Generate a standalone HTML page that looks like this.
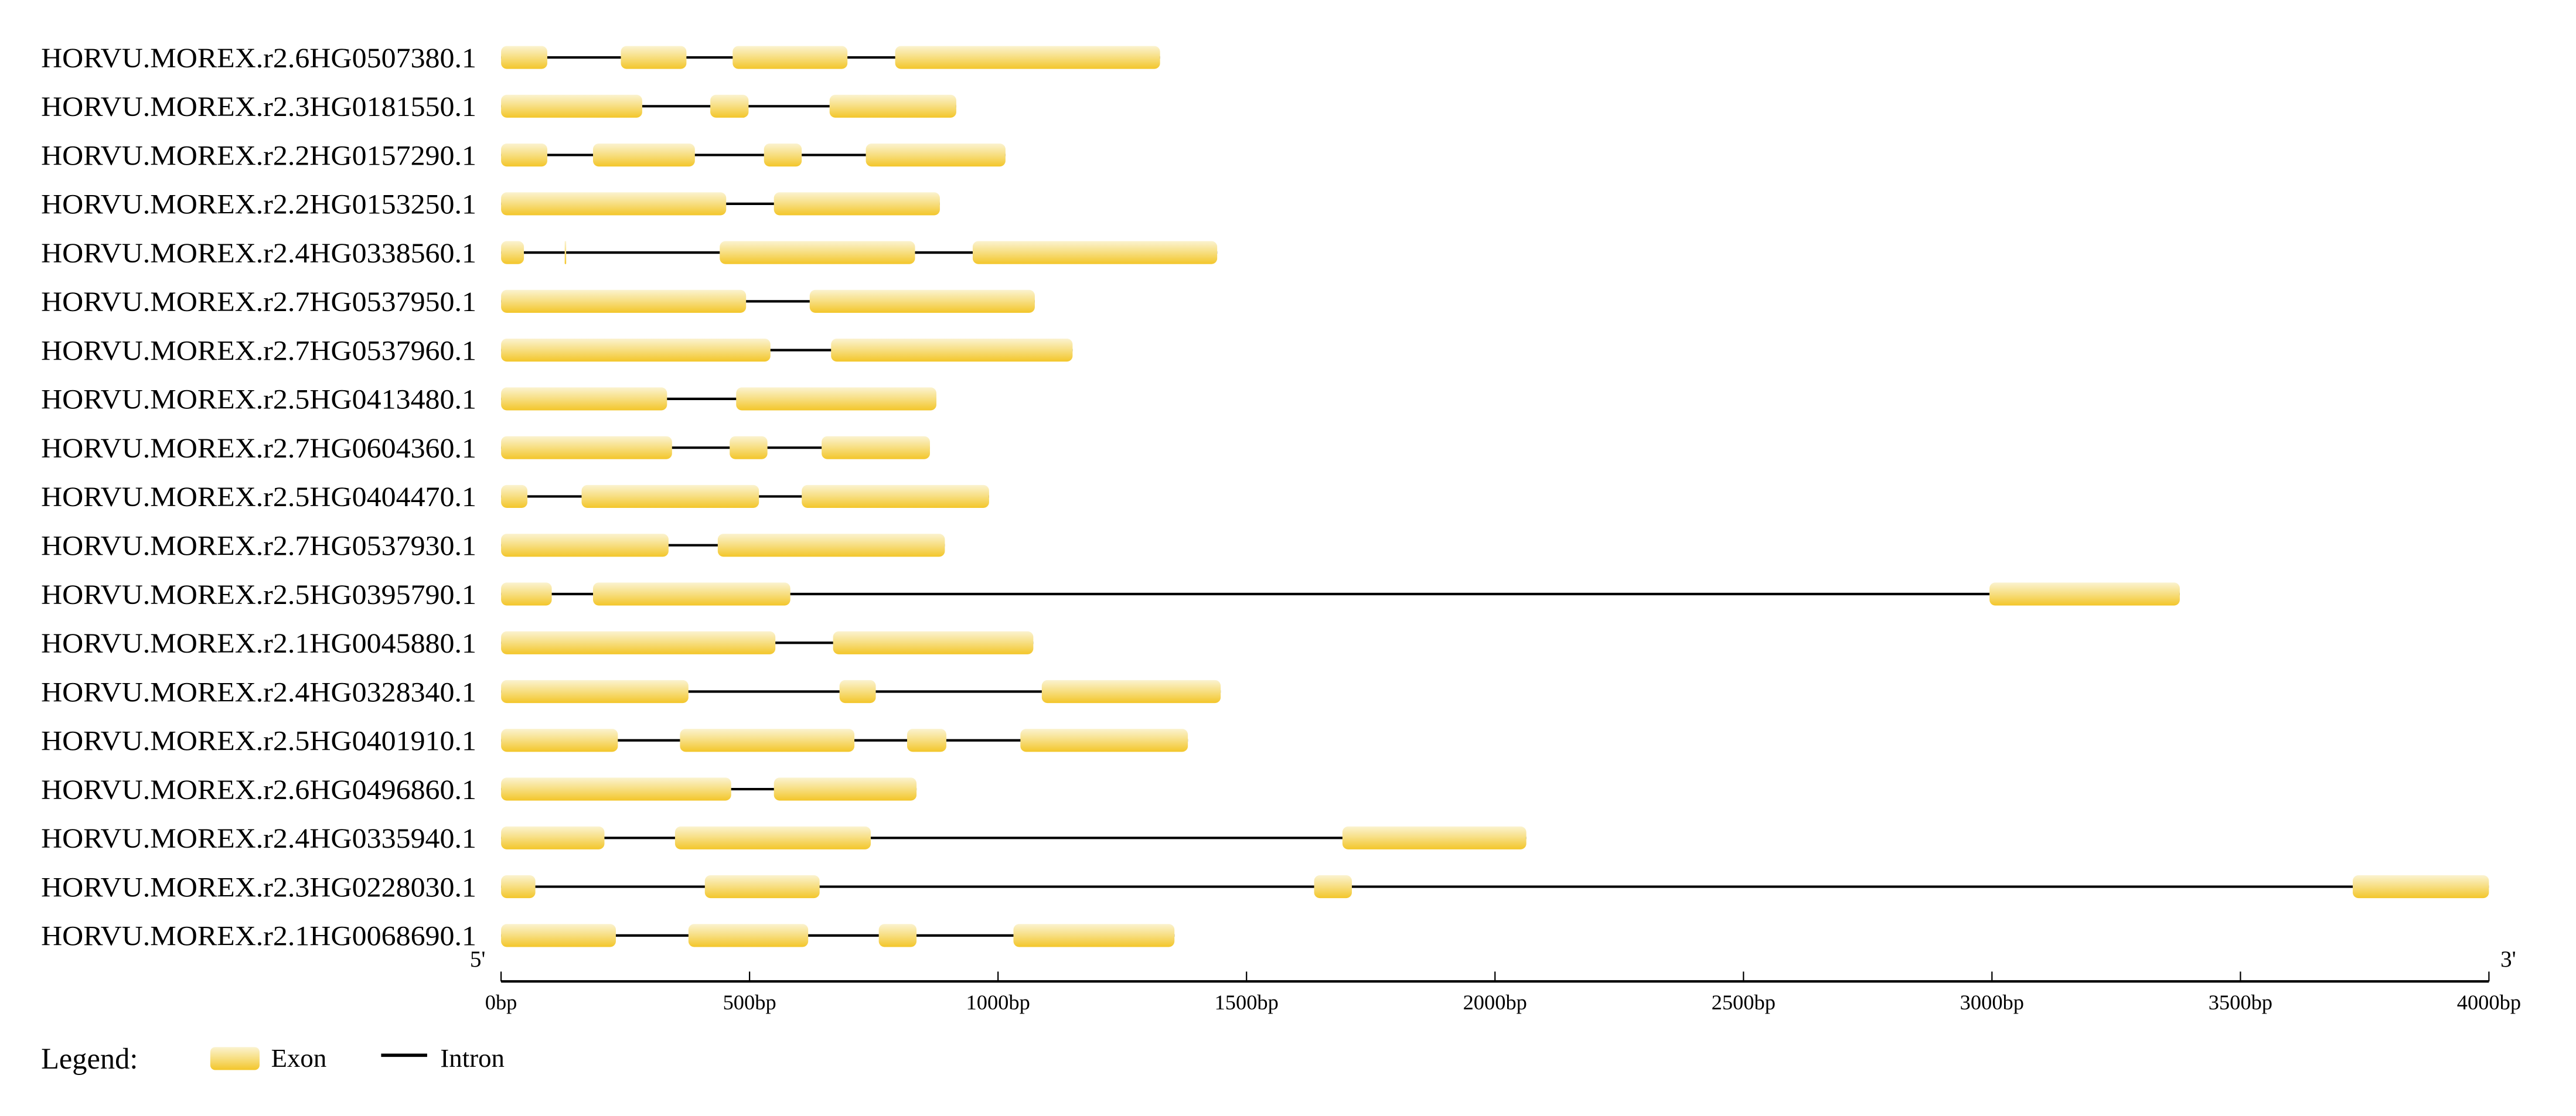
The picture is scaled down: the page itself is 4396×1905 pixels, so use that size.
<!DOCTYPE html>
<html><head><meta charset="utf-8"><style>
html,body{margin:0;padding:0;background:#fff;}
svg{display:block;}
text{font-family:"Liberation Serif",serif;fill:#000;}
</style></head><body>
<svg id="chart" width="4396" height="1905" viewBox="0 0 1568 680" preserveAspectRatio="none" xmlns="http://www.w3.org/2000/svg">
<defs>
<linearGradient id="exg" x1="0" y1="0" x2="0" y2="1">
<stop offset="0" stop-color="#fbf3d0"/><stop offset="0.5" stop-color="#f7de80"/><stop offset="1" stop-color="#f3c62a"/>
</linearGradient>
</defs>
<g id="rows"></g>
<g id="axis"></g>
<g id="legend">
<text x="25" y="651" font-size="18">Legend:</text>
<rect x="128" y="638" width="30" height="14" rx="3" fill="url(#exg)"/>
<text x="165" y="650" font-size="16">Exon</text>
<line x1="232" y1="643" x2="260" y2="643" stroke="#000" stroke-width="2"/>
<text x="268" y="650" font-size="16">Intron</text>
</g>
</svg>
<script>
const genes = ["HORVU.MOREX.r2.6HG0507380.1","HORVU.MOREX.r2.3HG0181550.1","HORVU.MOREX.r2.2HG0157290.1","HORVU.MOREX.r2.2HG0153250.1","HORVU.MOREX.r2.4HG0338560.1","HORVU.MOREX.r2.7HG0537950.1","HORVU.MOREX.r2.7HG0537960.1","HORVU.MOREX.r2.5HG0413480.1","HORVU.MOREX.r2.7HG0604360.1","HORVU.MOREX.r2.5HG0404470.1","HORVU.MOREX.r2.7HG0537930.1","HORVU.MOREX.r2.5HG0395790.1","HORVU.MOREX.r2.1HG0045880.1","HORVU.MOREX.r2.4HG0328340.1","HORVU.MOREX.r2.5HG0401910.1","HORVU.MOREX.r2.6HG0496860.1","HORVU.MOREX.r2.4HG0335940.1","HORVU.MOREX.r2.3HG0228030.1","HORVU.MOREX.r2.1HG0068690.1"];
const exons = [
[[0,93],[241,373],[466,697],[793,1326]],
[[0,284],[421,498],[661,916]],
[[0,93],[185,390],[529,605],[734,1015]],
[[0,453],[549,883]],
[[0,46],[128,131],[440,833],[949,1441]],
[[0,493],[621,1074]],
[[0,542],[664,1150]],
[[0,334],[473,876]],
[[0,344],[460,536],[645,863]],
[[0,53],[162,519],[605,982]],
[[0,337],[436,893]],
[[0,102],[185,582],[2995,3378]],
[[0,552],[668,1071]],
[[0,377],[681,754],[1088,1448]],
[[0,235],[360,711],[817,896],[1045,1382]],
[[0,463],[549,836]],
[[0,208],[350,744],[1693,2063]],
[[0,69],[410,641],[1636,1712],[3726,4000]],
[[0,231],[377,618],[760,836],[1031,1355]]
];
const tickValues = [0,500,1000,1500,2000,2500,3000,3500,4000];
const tickLabels = ["0bp","500bp","1000bp","1500bp","2000bp","2500bp","3000bp","3500bp","4000bp"];
const NS="http://www.w3.org/2000/svg";
const x0=305, x1=1515, maxBp=4000;
function xs(bp){return x0+bp/maxBp*(x1-x0);}
function ys(i){return 35+i*(570-35)/(genes.length-1);}
function mk(tag,attrs,parent){const e=document.createElementNS(NS,tag);for(const k in attrs)e.setAttribute(k,attrs[k]);parent.appendChild(e);return e;}
const rows=document.getElementById('rows');
genes.forEach((g,i)=>{
  const y=ys(i);
  const grp=mk('g',{},rows);
  
  
  const t=mk('text',{x:25,y:y+6,'font-size':17,textLength:265,lengthAdjust:'spacingAndGlyphs'},grp);
  t.textContent=g;
  
  
  const ex=exons[i];
  const ln=mk('line',{x1:xs(ex[0][0]),x2:xs(ex[ex.length-1][1]),y1:y,y2:y,stroke:'#000','stroke-width':1.5},grp);
  
  
  ex.forEach(e=>{
    const w=Math.max(xs(e[1])-xs(e[0]),0.8);
    const r=mk('rect',{x:xs(e[0]),y:y-7,width:w,height:14,rx:Math.min(3.5,w/2),fill:'url(#exg)'},grp);
    
    
  });
});
const ax=document.getElementById('axis');
const al=mk('line',{x1:x0,x2:x1,y1:598,y2:598,stroke:'#000','stroke-width':1.5},ax);


tickValues.forEach((v,i)=>{
  const x=xs(v);
  const tk=mk('line',{x1:x,x2:x,y1:592,y2:598,stroke:'#000','stroke-width':0.8},ax);
  
  
  const tl=mk('text',{x:x,y:615,'font-size':13,'text-anchor':'middle'},ax);
  tl.textContent=tickLabels[i];
  
  
});
const p5=mk('text',{x:286,y:589,'font-size':14},ax);
p5.textContent="5'";


const p3=mk('text',{x:1522,y:589,'font-size':14},ax);
p3.textContent="3'";


</script>
</body></html>
